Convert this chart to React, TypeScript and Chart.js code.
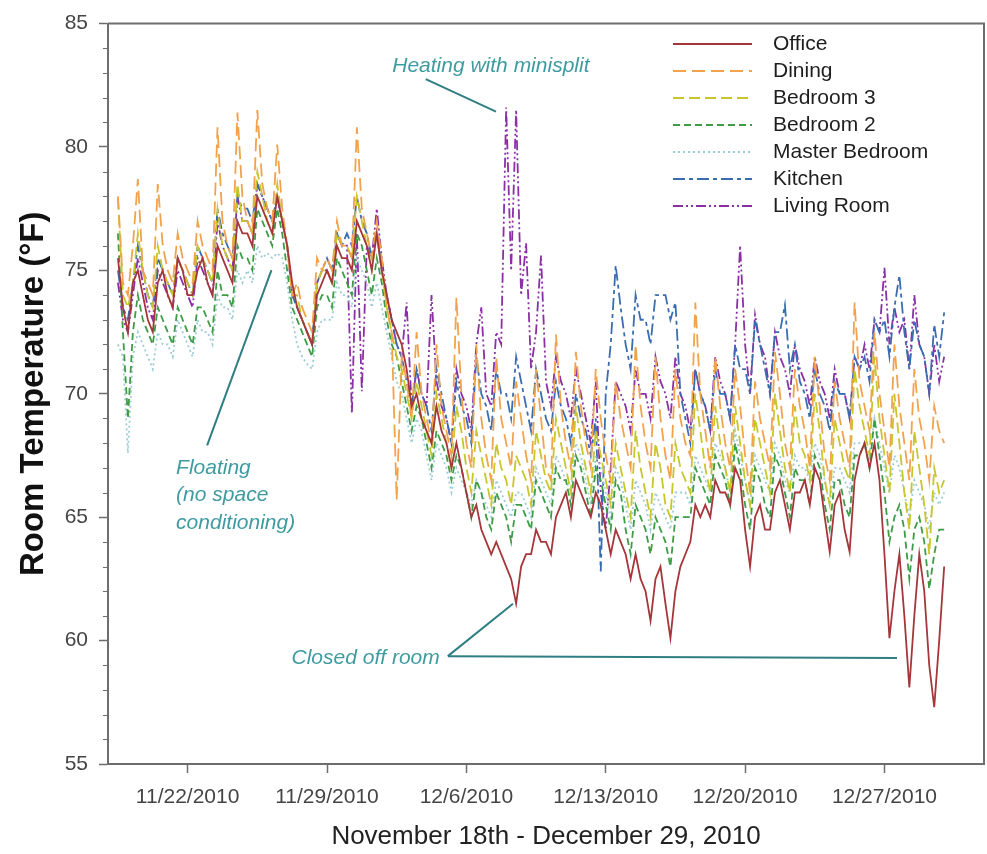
import React, { useEffect, useRef } from 'react';
import { Chart, registerables } from 'chart.js';

Chart.register(...registerables);

// ---------- data ----------
const SERIES_NAMES = ['Office', 'Dining', 'Bedroom 3', 'Bedroom 2', 'Master Bedroom', 'Kitchen', 'Living Room'];
// samples every 6 h, first sample 11/18/2010 12:00 (x axis = days since 11/18/2010 00:00)
const FIRST_SAMPLE_HOUR = 12;
const STEP_HOURS = 6;
const X_MIN_DAY = 0;
const X_MAX_DAY = 44;
const X_TICK_DAYS = [4, 11, 18, 25, 32, 39];
const X_TICK_LABELS = ['11/22/2010', '11/29/2010', '12/6/2010', '12/13/2010', '12/20/2010', '12/27/2010'];
const Y_TICKS = [55, 60, 65, 70, 75, 80, 85];
const X_TITLE = 'November 18th - December 29, 2010';
const Y_TITLE = 'Room Temperature (°F)';

const office = [
  75.5, 73.5,
  72.5, 74.5, 75, 74,
  73, 72.5, 74.5, 75,
  74, 73.5, 75.5, 75,
  74, 74, 75, 75.5,
  74.5, 74, 76, 75.5,
  75, 74.5, 77, 76.5,
  76.5, 76, 78, 77.5,
  77, 76.5, 78, 77,
  76, 74.5, 73.5, 73,
  72.5, 72, 74, 74.5,
  75, 74.5, 76, 75.5,
  75.5, 75, 77, 76.5,
  76, 75, 76.5, 75,
  74, 73, 72.5, 72,
  71, 69.5, 70, 69,
  68.5, 68, 69.5, 68.5,
  68, 67, 68, 67,
  66, 65, 65.5, 64.5,
  64, 63.5, 64, 63.5,
  63, 62.5, 61.5, 63,
  63.5, 63.5, 64.5, 64,
  64, 63.5, 65, 65.5,
  66, 65, 66.5, 66,
  65.5, 65, 66, 65.5,
  64.5, 63.5, 64.5, 64,
  63.5, 62.5, 63.5, 62.5,
  62, 60.8, 62.5, 63,
  61.5, 60.1, 62, 63,
  63.5, 64, 65.5, 65,
  65.5, 65, 66.5, 66,
  66, 65.5, 67, 66.5,
  64.5, 63, 65, 65.5,
  64.5, 64.5, 66, 66.5,
  65.5, 64.5, 66, 66,
  66.5, 65.5, 67, 66.5,
  65, 63.6, 65.5, 66,
  64.5, 63.6, 66.5, 67.5,
  68, 67, 68, 66.5,
  63.5, 60.1, 62, 63.5,
  61, 58.1, 61, 63.5,
  62, 59, 57.3, 60,
  63,
];

const dining = [
  78, 74.5,
  74, 76, 78.7, 75,
  74.5, 74, 78.5, 76,
  75, 74.5, 76.5, 75.5,
  75, 74.5, 77, 76,
  75.5, 75, 80.8, 77,
  76, 75.5, 81.4, 78,
  77, 76.5, 81.5, 78.5,
  77.5, 77, 80.1, 77.5,
  76, 74, 74.5, 73.5,
  73, 72.5, 75.5, 75,
  75.5, 75, 77, 76,
  76, 75.5, 80.8, 77.5,
  76.5, 75.5, 77, 75.5,
  73.5, 72.5, 65.7, 71.5,
  70.5, 69, 72.5, 70,
  69, 68, 72, 69.5,
  68.5, 67.5, 73.9, 70,
  68, 67, 72, 69,
  67.5, 66.5, 71.5, 69,
  68, 67, 70.5, 69,
  67.5, 66.5, 71, 69,
  67, 66.5, 72.4, 69.5,
  68, 67, 71.7, 69.5,
  68, 67, 71, 69,
  67.5, 66.5, 70.5, 69,
  68, 67, 72, 69.5,
  68, 67, 71.5, 69,
  67.5, 66.5, 71, 69,
  68, 67.5, 73.7, 70,
  68.5, 67, 71.5, 69.5,
  68, 67, 71, 69.5,
  67.5, 66, 70.5, 69,
  68, 67, 71.7, 70,
  68, 67, 71, 69.5,
  68.5, 67, 71.5, 69.5,
  67.5, 66.5, 70.5, 69,
  68, 67, 73.7, 70.5,
  69.5, 68.5, 72.5, 70,
  68.5, 67, 72, 69.5,
  68, 66.5, 71, 69,
  68, 66.5, 69.5, 68.5,
  68,
];

const bedroom3 = [
  77.9, 74,
  73.5, 74.5, 76.5, 75,
  74, 73.5, 76, 75,
  74.5, 74, 75.5, 75,
  74.5, 74, 76, 75.5,
  75, 74.5, 77.5, 76,
  75.5, 75, 78.5, 77,
  77, 76.5, 79, 78,
  77, 76.5, 78.5, 77,
  76, 74, 74, 73,
  72.5, 72, 74.5, 75,
  75, 74.5, 76.5, 76,
  76, 75.5, 78, 77,
  76, 75, 76.5, 75,
  73.5, 72.5, 71.5, 71,
  70, 69, 70.5, 69.5,
  68.5, 67.5, 70, 69,
  68, 67, 69.5, 68.5,
  67, 66, 68.5, 67.5,
  66.5, 65.5, 68, 67,
  66.5, 65.5, 67.5, 67,
  66.5, 65.5, 68.5, 67.5,
  66.5, 66, 69, 68,
  67, 66, 69.5, 68,
  67, 66, 68.5, 67.5,
  66.5, 65.5, 68, 67,
  66, 65, 68.5, 67,
  66, 65, 68, 67,
  65.5, 65, 68, 67,
  66.5, 66, 70, 68.5,
  67, 66, 69.5, 68,
  67, 66, 69.5, 68,
  66.5, 65.5, 69, 68,
  67, 66, 70, 68.5,
  67, 66, 69.5, 68,
  67.5, 66.5, 70, 68.5,
  66.5, 65.5, 69, 68,
  67, 66.5, 71, 69.5,
  68.5, 67.5, 71.5, 69,
  67.5, 66, 70, 68,
  66, 64.5, 68.5, 67,
  65.5, 63.5, 67, 66,
  66.5,
];

const bedroom2 = [
  76.5, 72.5,
  69, 72.5, 74, 73,
  72.5, 72, 73.5, 73,
  72.5, 72, 73.5, 73,
  72.5, 72, 73.5, 73.5,
  73, 72.5, 75, 74,
  74, 73.5, 76, 75.5,
  75.5, 75, 77.5, 77,
  76.5, 76, 77.5, 76.5,
  75, 73.5, 73, 72.5,
  72, 71.5, 73.5, 74,
  74, 73.5, 75.5, 75,
  74.5, 74, 76.5, 76,
  75, 74, 75.5, 74.5,
  73, 72, 71.5, 70.5,
  69.5, 68.5, 69.5, 69,
  68, 67, 68.5, 68,
  67.5, 66.5, 67.5, 67,
  66, 65, 66.5, 66,
  65, 64.5, 66, 65.5,
  65, 64, 65.5, 65.5,
  65, 64.5, 66.5, 66,
  65.5, 65, 67, 66.5,
  66.5, 65.5, 67.5, 67,
  66, 65, 67, 66.5,
  65.5, 64.5, 66.5, 66,
  64.5, 63.5, 65.5, 65,
  64.5, 63.5, 65, 64.5,
  64, 63, 65, 65,
  65, 65, 67, 66.5,
  66, 65.5, 67.5, 67,
  66.5, 65.5, 68, 67,
  65.5, 64.5, 67, 66.5,
  65.5, 65, 67.5, 67,
  66, 65, 67, 66.5,
  66.5, 65.5, 67.5, 67,
  65.5, 64.5, 66.5, 66.5,
  65.5, 65, 67.5, 67.5,
  68, 67, 69, 67.5,
  66, 64, 65, 65.5,
  64.5, 62.5, 64.5, 65,
  64, 62.1, 63.5, 64.5,
  64.5,
];

const masterBedroom = [
  72, 71.5,
  67.6, 71.5, 72.5, 72,
  71.5, 71, 72.5, 72,
  72, 71.5, 73, 72.5,
  72, 71.5, 73, 72.5,
  72.5, 72, 74, 73.5,
  73.5, 73, 75, 74.5,
  75, 74.5, 76, 75.5,
  75.7, 75.5, 75.7, 75.5,
  74.5, 73, 72, 71.5,
  71.2, 71, 72.5, 73,
  73, 73, 74.5, 74,
  74, 73.5, 75.5, 75,
  74.5, 73.5, 74.5, 73.5,
  72.5, 71.5, 70.5, 70,
  69, 68, 69, 68.5,
  67.5, 66.5, 68, 67.5,
  67, 66, 67, 66.5,
  66, 65.5, 66.5, 66,
  65.5, 65, 66.5, 66,
  65.5, 65, 66, 66,
  65.5, 65, 67, 66.5,
  66, 65.5, 67.5, 67,
  66.5, 66, 68, 67.5,
  66.5, 65.5, 67.5, 67,
  66, 65, 67, 66.5,
  65.5, 64.5, 66.5, 66,
  65.5, 64.5, 66, 65.5,
  65, 64.5, 66, 66,
  66, 65.5, 67.5, 67,
  66.5, 66, 68, 67.5,
  67, 66, 68.5, 67.5,
  66.5, 65.5, 67.5, 67,
  66.5, 66, 68, 67.5,
  66.5, 66, 67.5, 67,
  67, 66.5, 68, 67.5,
  66.5, 65.5, 67, 67,
  66.5, 66, 68, 68,
  68, 67.5, 69, 68,
  67, 66, 67.5, 67,
  66, 65, 66.5, 66,
  65.5, 64.5, 66, 65.5,
  66,
];

const kitchen = [
  75, 73.5,
  73, 74.5, 76, 75,
  74, 73.5, 75.5, 75,
  74.5, 74, 75.5, 75,
  74.5, 74, 76, 75.5,
  75, 74.5, 77.5, 76.5,
  76, 75.5, 78, 77.5,
  77.5, 77, 78.5, 78,
  77.5, 77, 78, 77,
  76, 74, 73.5, 73,
  72.5, 72, 74.5, 75,
  75.5, 75, 76.5, 76,
  76.5, 76, 78, 77,
  76.5, 75.5, 76.5, 75,
  74, 73, 72, 71.5,
  70.5, 69.5, 71, 70,
  69.5, 68.5, 71, 70,
  69, 68, 70.5, 69.5,
  69, 68, 71.5, 70,
  69.5, 68.5, 71, 70,
  70, 69, 71.5, 70.5,
  69.5, 68.5, 71, 70,
  69, 68.5, 70.5, 69.5,
  69, 68, 70, 69,
  68.5, 67.5, 69, 62.8,
  70, 72, 75.2, 73.5,
  72, 71, 74, 73,
  73, 72, 74, 74,
  74, 73, 73.7, 70,
  69, 68, 71, 70,
  69.5, 68.5, 71, 70,
  70, 69, 72, 71,
  71, 70, 73, 72,
  71, 70, 72.5, 72.5,
  73.6, 71, 72, 70.5,
  70, 69, 71, 70,
  69.5, 68.5, 70.5, 70,
  70, 69, 71.5, 71,
  71.5, 70.5, 73, 72.5,
  73, 71.5, 73.5, 74.8,
  72.5, 71, 73, 72,
  71.5, 70, 72.8, 71.5,
  73.3,
];

const livingRoom = [
  74.5, 73,
  72.5, 74, 75.5, 74.5,
  73.5, 73, 75, 74.5,
  74, 73.5, 75, 74.5,
  74, 73.5, 75.5, 75,
  74.5, 74, 77, 76,
  75.5, 75, 78, 77,
  77, 76.5, 78.5, 78,
  77.5, 77, 78, 77,
  76, 74, 73.5, 73,
  72.5, 72, 74.5, 75,
  75, 74.5, 76.5, 76,
  76, 69.2, 76.5, 70.1,
  76, 75.5, 77.5, 75.5,
  74, 73, 72, 71.5,
  73.7, 69.5, 71, 70,
  69.5, 74, 70.5, 69.5,
  69, 68, 71, 70,
  69.5, 68.5, 72, 73.5,
  70, 69.5, 72.5, 72,
  81.6, 75, 81.5, 74,
  76.1, 71, 72.5, 75.6,
  70.5, 69.5, 71.5, 70.5,
  70, 69, 71, 70,
  69, 68, 70.5, 66,
  64.5, 67, 70.5, 70,
  69.5, 68.5, 71, 70,
  70, 69, 71.5, 70.5,
  70, 69, 71.5, 70,
  69.5, 68.5, 71, 70,
  69.5, 68.5, 71.5, 70.5,
  70, 69, 72, 76,
  72, 70, 73.2, 72,
  71.5, 70, 72.5, 71.5,
  71, 70, 72, 71,
  70.5, 69.5, 71.5, 70.5,
  70, 69, 71, 70,
  70, 69, 71.5, 71,
  72, 71, 73, 72.5,
  75.1, 72, 73.5, 72.5,
  73, 71, 74, 72,
  71.5, 70, 72, 70.5,
  71.5,
];

const SERIES_VALUES = [office, dining, bedroom3, bedroom2, masterBedroom, kitchen, livingRoom];

// annotations (text anchored in data units: days, °F)
const NOTE_TEXTS = [
  ['Heating with minisplit'],
  ['Floating', '(no space', 'conditioning)'],
  ['Closed off room'],
];
const NOTE_ANCHORS = [
  { x: 19.23, y: 83.28, align: 'center' },
  { x: 3.42, y: 66.99, align: 'left' },
  { x: 12.94, y: 59.29, align: 'center' },
];
const POINTER_LINES = [
  [15.96, 82.75, 19.49, 81.43],
  [4.98, 67.91, 8.21, 75.01],
  [17.07, 59.37, 20.34, 61.49],
  [17.07, 59.37, 39.63, 59.29],
];

// ---------- styles ----------
const FONT = "'Liberation Sans', Arial, Helvetica, sans-serif";
const STYLES = [
  { color: '#a5363a', dash: [] as number[], width: 1.8 },
  { color: '#f3a24c', dash: [13, 6], width: 1.8 },
  { color: '#c8c62a', dash: [11, 5], width: 1.8 },
  { color: '#3d9c45', dash: [7, 4], width: 1.8 },
  { color: '#9dcdd4', dash: [2, 3], width: 1.8 },
  { color: '#3a6db0', dash: [12, 4, 4, 4], width: 1.8 },
  { color: '#8b2fa6', dash: [10, 3, 2, 3, 2, 3], width: 1.8 },
];
const AXIS_COLOR = '#6d6d6d';
const TICK_TEXT = '#454545';
const NOTE_COLOR = '#3e9ba0';
const NOTE_LINE = '#2f7e82';

const decorPlugin = {
  id: 'decor',
  afterDraw(chart: any) {
    const { ctx, chartArea: a, scales } = chart;
    const xs = scales.x;
    const ys = scales.y;
    ctx.save();
    // frame top/right
    ctx.strokeStyle = AXIS_COLOR;
    ctx.lineWidth = 2;
    ctx.beginPath();
    ctx.moveTo(a.left, a.top);
    ctx.lineTo(a.right, a.top);
    ctx.lineTo(a.right, a.bottom);
    ctx.stroke();
    // minor y ticks
    ctx.lineWidth = 1.2;
    ctx.beginPath();
    for (let v = 55; v <= 85; v++) {
      if (v % 5 === 0) continue;
      const py = Math.round(ys.getPixelForValue(v)) + 0.5;
      ctx.moveTo(a.left - 5, py);
      ctx.lineTo(a.left, py);
    }
    ctx.stroke();

    // legend
    const lx0 = 673, lx1 = 752, tx = 773, ly0 = 44, lstep = 27;
    ctx.font = `21px ${FONT}`;
    ctx.textBaseline = 'middle';
    ctx.textAlign = 'left';
    SERIES_NAMES.forEach((name, i) => {
      const st = STYLES[i];
      const yy = ly0 + i * lstep;
      ctx.strokeStyle = st.color;
      ctx.lineWidth = 2;
      ctx.setLineDash(st.dash);
      ctx.beginPath();
      ctx.moveTo(lx0, yy);
      ctx.lineTo(lx1, yy);
      ctx.stroke();
      ctx.setLineDash([]);
      ctx.fillStyle = '#1e1e1e';
      ctx.fillText(name, tx, yy);
    });

    // pointer lines
    ctx.strokeStyle = NOTE_LINE;
    ctx.lineWidth = 2;
    POINTER_LINES.forEach(([x1, y1, x2, y2]) => {
      ctx.beginPath();
      ctx.moveTo(xs.getPixelForValue(x1), ys.getPixelForValue(y1));
      ctx.lineTo(xs.getPixelForValue(x2), ys.getPixelForValue(y2));
      ctx.stroke();
    });
    // note texts
    ctx.font = `italic 21px ${FONT}`;
    ctx.fillStyle = NOTE_COLOR;
    NOTE_TEXTS.forEach((lines, i) => {
      const an = NOTE_ANCHORS[i];
      ctx.textAlign = an.align as CanvasTextAlign;
      const px = xs.getPixelForValue(an.x);
      const py = ys.getPixelForValue(an.y);
      lines.forEach((t, j) => ctx.fillText(t, px, py + j * 27.5));
    });
    ctx.restore();
  },
};

export default function App() {
  const ref = useRef<HTMLCanvasElement | null>(null);
  useEffect(() => {
    const canvas = ref.current;
    if (!canvas) return;
    const times = office.map((_, i) => (FIRST_SAMPLE_HOUR + i * STEP_HOURS) / 24);
    const datasets = SERIES_NAMES.map((name, si) => ({
      label: name,
      data: SERIES_VALUES[si].map((v, i) => ({ x: times[i], y: v })),
      borderColor: STYLES[si].color,
      borderDash: STYLES[si].dash,
      borderWidth: STYLES[si].width,
      pointRadius: 0,
      fill: false,
      tension: 0,
    }));
    const chart = new Chart(canvas, {
      type: 'line',
      data: { datasets },
      options: {
        responsive: false,
        animation: false,
        devicePixelRatio: 1,
        parsing: false as any,
        normalized: true,
        layout: { padding: { left: 0, top: 16, right: 3, bottom: 0 } },
        plugins: { legend: { display: false }, tooltip: { enabled: false } },
        scales: {
          x: {
            type: 'linear',
            min: X_MIN_DAY,
            max: X_MAX_DAY,
            afterBuildTicks: (s: any) => {
              s.ticks = X_TICK_DAYS.map((v) => ({ value: v }));
            },
            afterFit: (s: any) => {
              s.height = 90;
            },
            ticks: {
              autoSkip: false,
              maxRotation: 0,
              minRotation: 0,
              padding: 12,
              color: TICK_TEXT,
              font: { family: FONT, size: 21 },
              callback: (v: any) => {
                const k = X_TICK_DAYS.indexOf(Number(v));
                return k >= 0 ? X_TICK_LABELS[k] : '';
              },
            },
            grid: { drawOnChartArea: false, drawTicks: true, tickLength: 9, color: AXIS_COLOR, tickWidth: 1.5 },
            border: { display: true, color: AXIS_COLOR, width: 2 },
            title: {
              display: true,
              text: X_TITLE,
              color: '#222',
              font: { family: FONT, size: 26 },
              padding: { top: 0, bottom: 2 },
            },
          },
          y: {
            type: 'linear',
            min: 55,
            max: 85,
            afterBuildTicks: (s: any) => {
              s.ticks = Y_TICKS.map((v) => ({ value: v }));
            },
            afterFit: (s: any) => {
              s.width = 108;
            },
            ticks: {
              padding: 11,
              color: TICK_TEXT,
              font: { family: FONT, size: 21 },
            },
            grid: { drawOnChartArea: false, drawTicks: true, tickLength: 9, color: AXIS_COLOR, tickWidth: 1.5 },
            border: { display: true, color: AXIS_COLOR, width: 2 },
            title: {
              display: true,
              text: Y_TITLE,
              color: '#111',
              font: { family: FONT, size: 33, weight: 'bold' },
              padding: { top: 14, bottom: 0 },
            },
          },
        },
      },
      plugins: [decorPlugin],
    });
    return () => chart.destroy();
  }, []);
  return (
    <div style={{ position: 'absolute', left: 0, top: 0, width: 987, height: 854, background: '#fff' }}>
      <canvas ref={ref} width={987} height={854} style={{ width: 987, height: 854, display: 'block' }} />
    </div>
  );
}
